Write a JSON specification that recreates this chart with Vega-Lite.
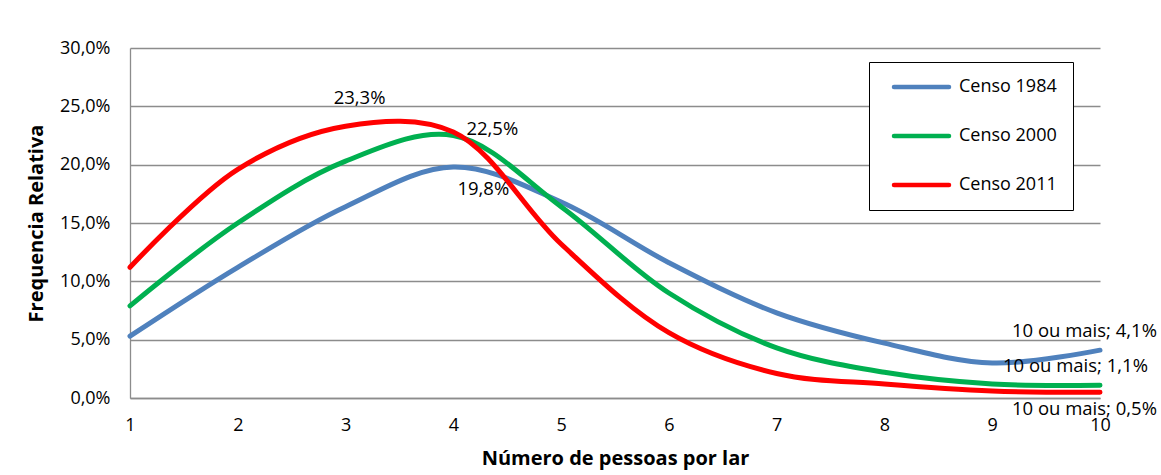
{
  "$schema": "https://vega.github.io/schema/vega-lite/v6.json",
  "width": 970,
  "height": 350,
  "autosize": {"type": "none"},
  "padding": {"left": 130, "top": 48, "right": 61, "bottom": 77},
  "background": "white",
  "config": {"font": "Open Sans", "view": {"stroke": null}},
  "datasets": {
    "series": [
      {"censo": "Censo 1984", "pessoas": 1, "freq": 0.053},
      {"censo": "Censo 1984", "pessoas": 2, "freq": 0.112},
      {"censo": "Censo 1984", "pessoas": 3, "freq": 0.164},
      {"censo": "Censo 1984", "pessoas": 4, "freq": 0.198},
      {"censo": "Censo 1984", "pessoas": 5, "freq": 0.168},
      {"censo": "Censo 1984", "pessoas": 6, "freq": 0.116},
      {"censo": "Censo 1984", "pessoas": 7, "freq": 0.073},
      {"censo": "Censo 1984", "pessoas": 8, "freq": 0.047},
      {"censo": "Censo 1984", "pessoas": 9, "freq": 0.030},
      {"censo": "Censo 1984", "pessoas": 10, "freq": 0.041},
      {"censo": "Censo 2000", "pessoas": 1, "freq": 0.079},
      {"censo": "Censo 2000", "pessoas": 2, "freq": 0.150},
      {"censo": "Censo 2000", "pessoas": 3, "freq": 0.203},
      {"censo": "Censo 2000", "pessoas": 4, "freq": 0.225},
      {"censo": "Censo 2000", "pessoas": 5, "freq": 0.164},
      {"censo": "Censo 2000", "pessoas": 6, "freq": 0.090},
      {"censo": "Censo 2000", "pessoas": 7, "freq": 0.043},
      {"censo": "Censo 2000", "pessoas": 8, "freq": 0.022},
      {"censo": "Censo 2000", "pessoas": 9, "freq": 0.012},
      {"censo": "Censo 2000", "pessoas": 10, "freq": 0.011},
      {"censo": "Censo 2011", "pessoas": 1, "freq": 0.112},
      {"censo": "Censo 2011", "pessoas": 2, "freq": 0.196},
      {"censo": "Censo 2011", "pessoas": 3, "freq": 0.233},
      {"censo": "Censo 2011", "pessoas": 4, "freq": 0.228},
      {"censo": "Censo 2011", "pessoas": 5, "freq": 0.132},
      {"censo": "Censo 2011", "pessoas": 6, "freq": 0.056},
      {"censo": "Censo 2011", "pessoas": 7, "freq": 0.021},
      {"censo": "Censo 2011", "pessoas": 8, "freq": 0.012},
      {"censo": "Censo 2011", "pessoas": 9, "freq": 0.006},
      {"censo": "Censo 2011", "pessoas": 10, "freq": 0.005}
    ],
    "labels": [
      {"id": "a", "pessoas": 3, "freq": 0.233, "texto": "23,3%"},
      {"id": "b", "pessoas": 4, "freq": 0.225, "texto": "22,5%"},
      {"id": "c", "pessoas": 4, "freq": 0.198, "texto": "19,8%"},
      {"id": "d", "pessoas": 10, "freq": 0.041, "texto": "10 ou mais; 4,1%"},
      {"id": "e", "pessoas": 10, "freq": 0.011, "texto": "10 ou mais; 1,1%"},
      {"id": "f", "pessoas": 10, "freq": 0.005, "texto": "10 ou mais; 0,5%"}
    ]
  },
  "layer": [
    {
      "data": {"name": "series"},
      "mark": {"type": "line", "interpolate": "catmull-rom", "strokeWidth": 5, "strokeCap": "round"},
      "encoding": {
        "x": {
          "field": "pessoas", "type": "quantitative",
          "scale": {"domain": [1, 10], "nice": false},
          "axis": {
            "values": [1, 2, 3, 4, 5, 6, 7, 8, 9, 10], "format": "d", "grid": false, "ticks": false,
            "domainColor": "#8c8c8c", "domainWidth": 1.3, "labelFlush": false,
            "labelPadding": 18, "labelFontSize": 18, "labelColor": "black",
            "title": "Número de pessoas por lar", "titleFontSize": 20, "titleFontWeight": "bold",
            "titleColor": "black", "titlePadding": 14
          }
        },
        "y": {
          "field": "freq", "type": "quantitative",
          "scale": {"domain": [0, 0.3], "nice": false},
          "axis": {
            "values": [0, 0.05, 0.1, 0.15, 0.2, 0.25, 0.3], "grid": true, "gridColor": "#8c8c8c", "gridWidth": 1.3,
            "ticks": false, "domainColor": "#8c8c8c", "domainWidth": 1.3,
            "labelExpr": "replace(format(datum.value, '.1%'), '.', ',')",
            "labelPadding": 20, "labelFontSize": 18, "labelColor": "black",
            "title": "Frequencia Relativa", "titleFontSize": 20, "titleFontWeight": "bold",
            "titleColor": "black", "titlePadding": 13
          }
        },
        "color": {
          "field": "censo", "type": "nominal",
          "scale": {"domain": ["Censo 1984", "Censo 2000", "Censo 2011"], "range": ["#4F81BD", "#00B050", "#FF0000"]},
          "legend": {
            "orient": "none", "legendX": 739, "legendY": 14, "title": null,
            "strokeColor": "black", "padding": 16, "fillColor": "white",
            "symbolType": "M0,0H11", "symbolSize": 100, "symbolStrokeWidth": 4.5,
            "labelFontSize": 18, "labelColor": "black", "labelOffset": 56, "rowPadding": 31,
            "encode": {"symbols": {"update": {"strokeCap": {"value": "round"}, "fill": {"value": "transparent"}}}}
          }
        }
      }
    },
    {
      "data": {"name": "labels"},
      "transform": [{"filter": "datum.id == 'a'"}],
      "mark": {"type": "text", "fontSize": 18.5, "color": "black", "dx": 14, "dy": -28, "baseline": "middle"},
      "encoding": {"x": {"field": "pessoas", "type": "quantitative"}, "y": {"field": "freq", "type": "quantitative"}, "text": {"field": "texto"}}
    },
    {
      "data": {"name": "labels"},
      "transform": [{"filter": "datum.id == 'b'"}],
      "mark": {"type": "text", "fontSize": 18.5, "color": "black", "dx": 39, "dy": -7, "baseline": "middle"},
      "encoding": {"x": {"field": "pessoas", "type": "quantitative"}, "y": {"field": "freq", "type": "quantitative"}, "text": {"field": "texto"}}
    },
    {
      "data": {"name": "labels"},
      "transform": [{"filter": "datum.id == 'c'"}],
      "mark": {"type": "text", "fontSize": 18.5, "color": "black", "dx": 30, "dy": 22, "baseline": "middle"},
      "encoding": {"x": {"field": "pessoas", "type": "quantitative"}, "y": {"field": "freq", "type": "quantitative"}, "text": {"field": "texto"}}
    },
    {
      "data": {"name": "labels"},
      "transform": [{"filter": "datum.id == 'd'"}],
      "mark": {"type": "text", "fontSize": 18.5, "color": "black", "dx": 57, "dy": -19, "baseline": "middle", "align": "right"},
      "encoding": {"x": {"field": "pessoas", "type": "quantitative"}, "y": {"field": "freq", "type": "quantitative"}, "text": {"field": "texto"}}
    },
    {
      "data": {"name": "labels"},
      "transform": [{"filter": "datum.id == 'e'"}],
      "mark": {"type": "text", "fontSize": 18.5, "color": "black", "dx": 48, "dy": -19, "baseline": "middle", "align": "right"},
      "encoding": {"x": {"field": "pessoas", "type": "quantitative"}, "y": {"field": "freq", "type": "quantitative"}, "text": {"field": "texto"}}
    },
    {
      "data": {"name": "labels"},
      "transform": [{"filter": "datum.id == 'f'"}],
      "mark": {"type": "text", "fontSize": 18.5, "color": "black", "dx": 57, "dy": 17, "baseline": "middle", "align": "right"},
      "encoding": {"x": {"field": "pessoas", "type": "quantitative"}, "y": {"field": "freq", "type": "quantitative"}, "text": {"field": "texto"}}
    }
  ]
}
